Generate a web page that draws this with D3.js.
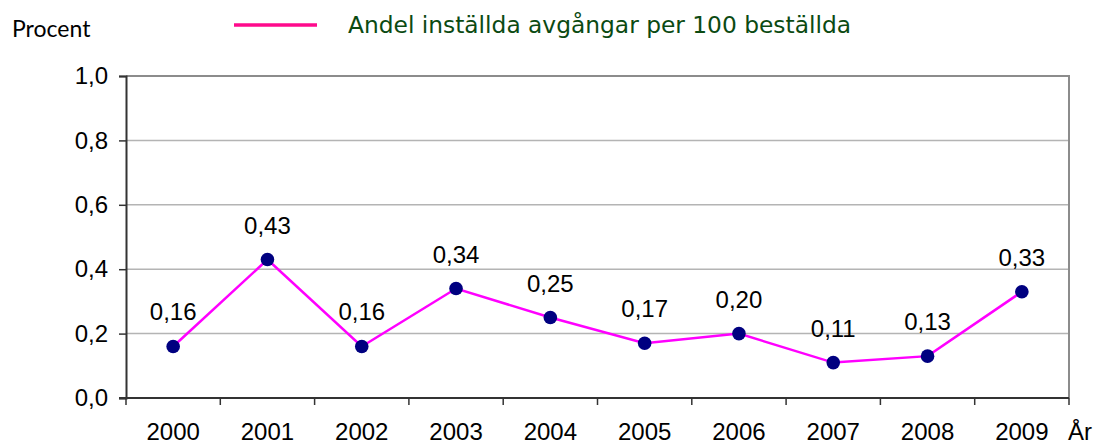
<!DOCTYPE html>
<html>
<head>
<meta charset="utf-8">
<script src="https://cdn.jsdelivr.net/npm/d3@7"></script>
<style>
  body { margin: 0; background: #fff; }
  svg { display: block; }
</style>
</head>
<body>
<div id="chart"></div>
<script>
const years = ['2000', '2001', '2002', '2003', '2004', '2005', '2006', '2007', '2008', '2009']
const values = [0.16, 0.43, 0.16, 0.34, 0.25, 0.17, 0.20, 0.11, 0.13, 0.33]
const yTicks = [0, 0.2, 0.4, 0.6, 0.8, 1.0]
const seriesName = 'Andel inställda avgångar per 100 beställda'

const w = 1096
const h = 444
const plotLeft = 126
const plotRight = 1069
const plotTop = 76
const plotBottom = 398
const numFont = 'Liberation Sans'

const fmt = v => d3.format('.1f')(v).replace('.', ',')
const fmt2 = v => d3.format('.2f')(v).replace('.', ',')

const xScale = d3.scaleBand()
  .domain(years)
  .range([plotLeft, plotRight])

const yScale = d3.scaleLinear()
  .domain([0, 1])
  .range([plotBottom, plotTop])

const svg = d3.select('#chart')
  .append('svg')
  .attr('width', w)
  .attr('height', h)

/* gridlines */
svg.append('g')
  .selectAll('line')
  .data(yTicks.filter(t => t > 0 && t < 1))
  .enter()
  .append('line')
  .attr('x1', plotLeft)
  .attr('x2', plotRight)
  .attr('y1', d => yScale(d))
  .attr('y2', d => yScale(d))
  .attr('stroke', '#b4b4b4')
  .attr('stroke-width', 1.5)

/* frame top + right */
svg.append('path')
  .attr('d', `M${plotLeft},${yScale(1)}H${plotRight}V${plotBottom}`)
  .attr('fill', 'none')
  .attr('stroke', '#8c8c8c')
  .attr('stroke-width', 2)

/* y axis */
const yAxis = d3.axisLeft(yScale)
  .tickValues(yTicks)
  .tickSize(7)
  .tickPadding(11)
  .tickFormat(fmt)

const gy = svg.append('g')
  .attr('transform', `translate(${plotLeft},0)`)
  .call(yAxis)
gy.select('.domain').attr('stroke', '#333').attr('stroke-width', 2)
gy.selectAll('.tick line').attr('stroke', '#333').attr('stroke-width', 1.5)
gy.selectAll('.tick text')
  .attr('font-family', numFont)
  .attr('font-size', 24)
  .attr('fill', '#000')

/* x axis: ticks at band edges */
svg.append('line')
  .attr('x1', plotLeft - 7)
  .attr('x2', plotRight)
  .attr('y1', plotBottom)
  .attr('y2', plotBottom)
  .attr('stroke', '#333')
  .attr('stroke-width', 2)

const edges = years.map(y => xScale(y)).concat([plotRight])
svg.append('g')
  .selectAll('line')
  .data(edges)
  .enter()
  .append('line')
  .attr('x1', d => d)
  .attr('x2', d => d)
  .attr('y1', plotBottom)
  .attr('y2', plotBottom + 7)
  .attr('stroke', '#333')
  .attr('stroke-width', 1.5)

svg.append('g')
  .selectAll('text')
  .data(years)
  .enter()
  .append('text')
  .attr('x', d => xScale(d) + xScale.bandwidth() / 2)
  .attr('y', 440)
  .attr('text-anchor', 'middle')
  .attr('font-family', numFont)
  .attr('font-size', 24)
  .text(d => d)

svg.append('text')
  .attr('x', 1068)
  .attr('y', 440)
  .attr('font-family', numFont)
  .attr('font-size', 24)
  .text('År')

svg.append('text')
  .attr('x', 12)
  .attr('y', 37)
  .attr('font-family', 'Lato')
  .attr('font-size', 23)
  .text('Procent')

/* line + points */
const data = years.map((y, i) => ({ year: y, value: values[i] }))
const cx = d => xScale(d.year) + xScale.bandwidth() / 2

svg.append('path')
  .datum(data)
  .attr('fill', 'none')
  .attr('stroke', '#ff00ff')
  .attr('stroke-width', 2.5)
  .attr('d', d3.line().x(cx).y(d => yScale(d.value)))

svg.append('g')
  .selectAll('circle')
  .data(data)
  .enter()
  .append('circle')
  .attr('cx', cx)
  .attr('cy', d => yScale(d.value))
  .attr('r', 6.8)
  .attr('fill', '#000080')

svg.append('g')
  .selectAll('text')
  .data(data)
  .enter()
  .append('text')
  .attr('x', cx)
  .attr('y', d => yScale(d.value) - 26)
  .attr('text-anchor', 'middle')
  .attr('font-family', numFont)
  .attr('font-size', 24)
  .text(d => fmt2(d.value))

/* legend */
svg.append('line')
  .attr('x1', 234)
  .attr('x2', 317)
  .attr('y1', 25)
  .attr('y2', 25)
  .attr('stroke', '#ff0a8c')
  .attr('stroke-width', 3.5)

svg.append('text')
  .attr('x', 348)
  .attr('y', 33)
  .attr('font-family', 'DejaVu Sans Condensed')
  .attr('font-size', 23)
  .attr('fill', '#0b4a12')
  .attr('textLength', 503)
  .attr('lengthAdjust', 'spacingAndGlyphs')
  .text(seriesName)
</script>
</body>
</html>
